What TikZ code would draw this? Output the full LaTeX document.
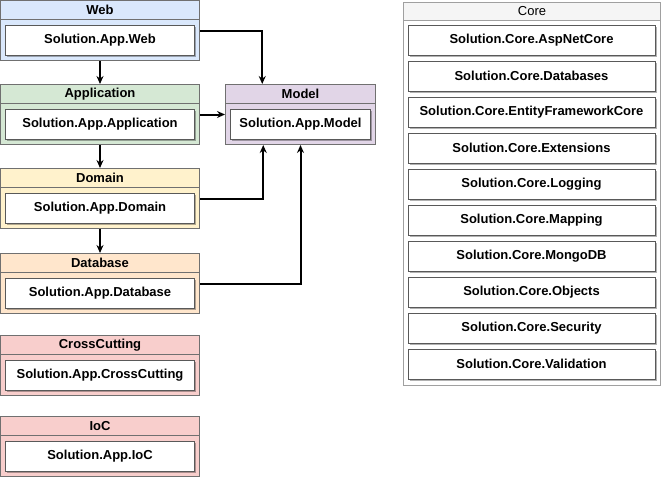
\documentclass[tikz,border=0pt]{standalone}
\usepackage{fontspec}
\setmainfont{Liberation Sans}
\usetikzlibrary{positioning, arrows.meta, shadows, calc}

\definecolor{webfill}{HTML}{DAE8FC}
\definecolor{appfill}{HTML}{D5E8D4}
\definecolor{domfill}{HTML}{FFF2CC}
\definecolor{dbfill}{HTML}{FFE6CC}
\definecolor{xcfill}{HTML}{F8CECC}
\definecolor{modfill}{HTML}{E1D5E7}
\definecolor{corefill}{HTML}{F5F5F5}
\definecolor{pkgline}{HTML}{707070}
\definecolor{coreline}{HTML}{A0A0A0}

\begin{document}
\begin{tikzpicture}[
    x=1pt, y=-1pt,
    font=\fontsize{13}{15}\selectfont,
    pkg/.style={rectangle, draw=pkgline, line width=1pt, minimum width=199pt,
                minimum height=60pt, anchor=north west, inner sep=0pt},
    hdr/.style={rectangle, draw=pkgline, line width=1pt, minimum width=199pt,
                minimum height=19pt, anchor=north, inner sep=0pt, font=\fontsize{13}{15}\selectfont\bfseries},
    mod/.style={rectangle, draw=black!65, line width=0.8pt, fill=white, minimum width=189pt,
                minimum height=30pt, inner sep=0pt, font=\fontsize{13}{15}\selectfont\bfseries,
                drop shadow={shadow xshift=1.5pt, shadow yshift=-1.5pt, fill=black, opacity=0.3}},
    cmod/.style={mod, minimum width=247pt},
    arr/.style={-{Stealth[length=8pt, width=7pt]}, line width=2pt, draw=black}
]
\useasboundingbox (0,0) rectangle (663,477);

% app layers
\node[pkg, fill=webfill] (web) at (0,0) {};
\node[hdr, fill=webfill] (web-h) at (web.north) {Web};
\node[mod, below=5pt of web-h] (web-m) {Solution.App.Web};

\node[pkg, fill=appfill] (app) at (0,84) {};
\node[hdr, fill=appfill] (app-h) at (app.north) {Application};
\node[mod, below=5pt of app-h] (app-m) {Solution.App.Application};

\node[pkg, fill=domfill] (dom) at (0,168) {};
\node[hdr, fill=domfill] (dom-h) at (dom.north) {Domain};
\node[mod, below=5pt of dom-h] (dom-m) {Solution.App.Domain};

\node[pkg, fill=dbfill] (db) at (0,253) {};
\node[hdr, fill=dbfill] (db-h) at (db.north) {Database};
\node[mod, below=5pt of db-h] (db-m) {Solution.App.Database};

\node[pkg, fill=xcfill] (xc) at (0,335) {};
\node[hdr, fill=xcfill] (xc-h) at (xc.north) {CrossCutting};
\node[mod, below=5pt of xc-h] (xc-m) {Solution.App.CrossCutting};

\node[pkg, fill=xcfill] (ioc) at (0,416) {};
\node[hdr, fill=xcfill] (ioc-h) at (ioc.north) {IoC};
\node[mod, below=5pt of ioc-h] (ioc-m) {Solution.App.IoC};

% model
\node[pkg, fill=modfill, minimum width=150pt] (model) at (225,84) {};
\node[hdr, fill=modfill, minimum width=150pt] (model-h) at (model.north) {Model};
\node[mod, below=5pt of model-h, minimum width=140pt] (model-m) {Solution.App.Model};

% core
\node[pkg, fill=white, draw=coreline, minimum width=257pt, minimum height=383pt] (core) at (403,2) {};
\node[hdr, fill=corefill, draw=coreline, minimum width=257pt, minimum height=18pt,
      font=\fontsize{13}{15}\selectfont] (core-h) at (core.north) {Core};
\foreach \name [count=\i from 0] in {AspNetCore, Databases, EntityFrameworkCore, Extensions,
    Logging, Mapping, MongoDB, Objects, Security, Validation}
  \node[cmod] (core\i) at (531.5,40+36*\i) {Solution.Core.\name};

% dependencies
\draw[arr] (web) -- (app);
\draw[arr] (app) -- (dom);
\draw[arr] (dom) -- (db);
\draw[arr] (web.east) -| ([xshift=-0.5pt]$(model.north west)!0.25!(model.north east)$);
\draw[arr] (app.east) -- (model.west);
\draw[arr] (dom.east) -| ([xshift=0.5pt]$(model.south west)!0.25!(model.south east)$);
\draw[arr] (db.east) -| (model.south);
\end{tikzpicture}
\end{document}
